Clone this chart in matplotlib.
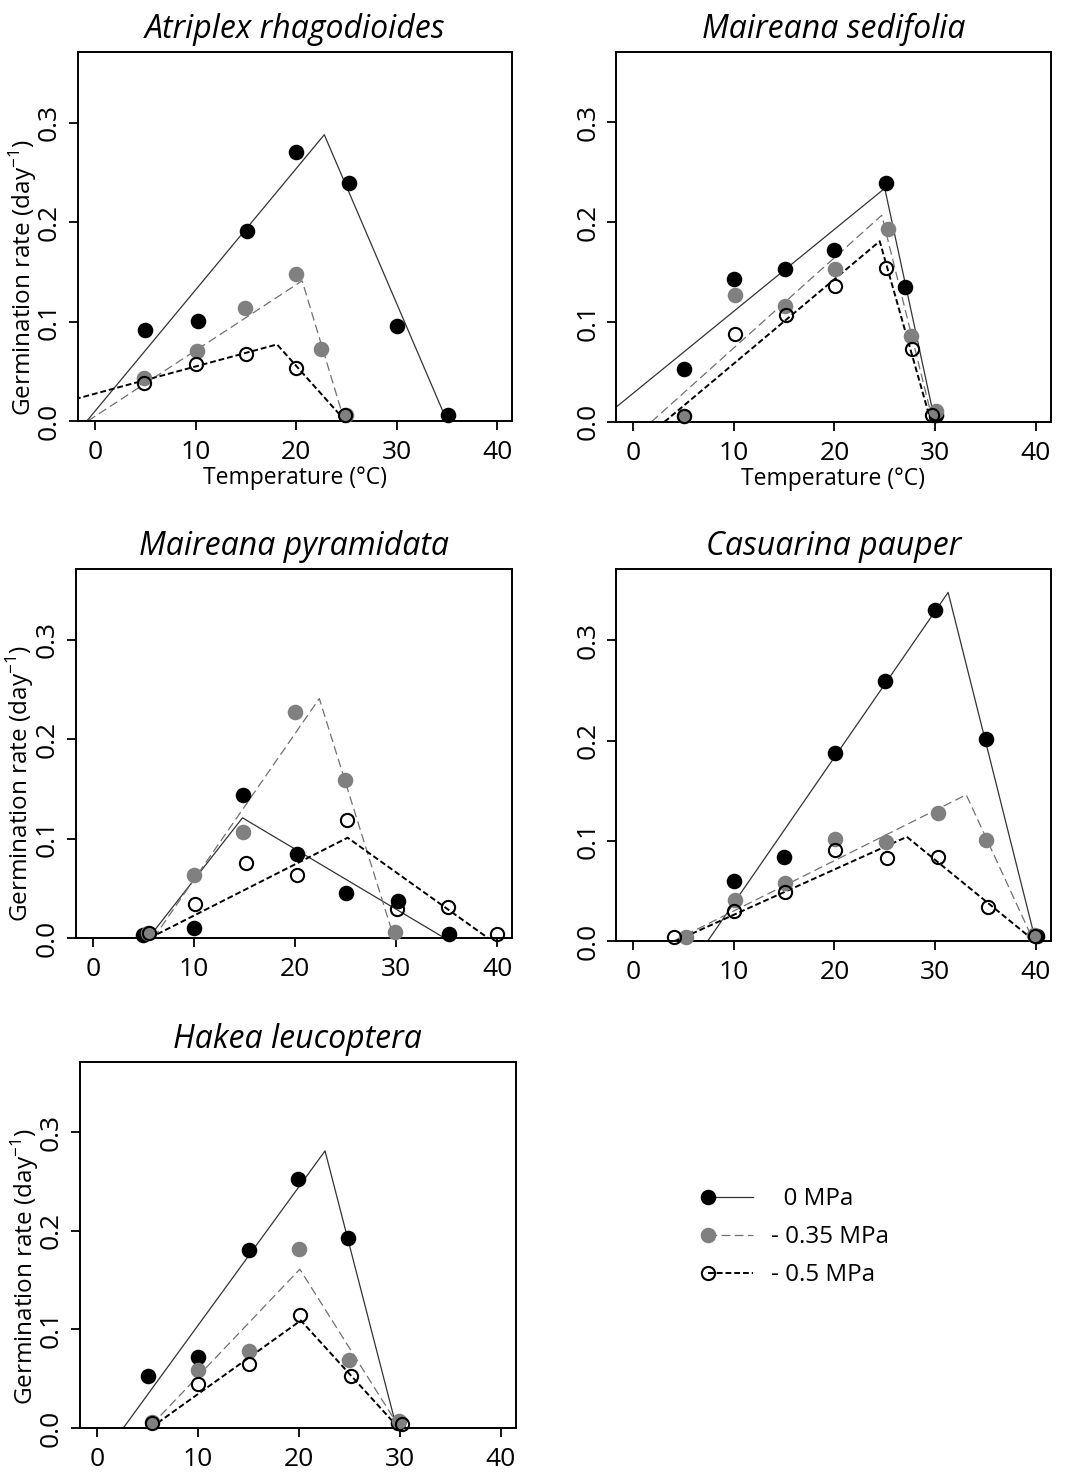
import matplotlib
matplotlib.use("Agg")
import matplotlib.pyplot as plt
from matplotlib.lines import Line2D
from matplotlib.legend_handler import HandlerLine2D
from matplotlib.ticker import FormatStrFormatter

plt.rcParams["font.family"] = ["Open Sans", "DejaVu Sans"]
plt.rcParams["mathtext.fontset"] = "custom"
plt.rcParams["mathtext.rm"] = "Open Sans"

# ---- data (temperature in °C, rate in day^-1) ----
# Atriplex rhagodioides
atr_t0 = [5, 10.2, 15.1, 20, 25.3, 30, 35.1]
atr_r0 = [0.092, 0.101, 0.191, 0.271, 0.239, 0.096, 0.006]
atr_t35 = [4.9, 10.1, 14.9, 20, 22.5, 25]
atr_r35 = [0.043, 0.070, 0.114, 0.148, 0.072, 0.006]
atr_t50 = [4.9, 10, 15, 20, 24.9]
atr_r50 = [0.038, 0.057, 0.067, 0.053, 0.006]
atr_fx0, atr_fy0 = [-0.8, 22.8, 35.0], [0, 0.288, 0]
atr_fx35, atr_fy35 = [-0.7, 20.6, 24.8], [0, 0.141, 0]
atr_fx50, atr_fy50 = [-10.0, 18.1, 24.9], [0, 0.077, 0]

# Maireana sedifolia
mse_t0 = [5, 10, 15.1, 20, 25.1, 27, 30.1]
mse_r0 = [0.053, 0.143, 0.153, 0.172, 0.239, 0.135, 0.007]
mse_t35 = [5, 10.1, 15.1, 20.1, 25.3, 27.6, 30.1]
mse_r35 = [0.006, 0.127, 0.116, 0.153, 0.193, 0.086, 0.011]
mse_t50 = [5, 10.1, 15.2, 20.1, 25.1, 27.7, 29.7]
mse_r50 = [0.006, 0.088, 0.107, 0.136, 0.154, 0.073, 0.007]
mse_fx0, mse_fy0 = [-3.5, 25.0, 30.0], [0, 0.234, 0]
mse_fx35, mse_fy35 = [1.8, 24.7, 29.8], [0, 0.207, 0]
mse_fx50, mse_fy50 = [3.1, 24.5, 29.6], [0, 0.181, 0]

# Maireana pyramidata
mpy_t0 = [5, 10, 14.9, 20.2, 25, 30.2, 35.2]
mpy_r0 = [0.003, 0.010, 0.144, 0.085, 0.045, 0.037, 0.004]
mpy_t35 = [5.5, 10, 14.9, 20, 24.9, 29.9]
mpy_r35 = [0.005, 0.063, 0.107, 0.227, 0.159, 0.006]
mpy_t50 = [5.6, 10.1, 15.1, 20.2, 25.1, 30.1, 35.1, 40]
mpy_r50 = [0.005, 0.034, 0.076, 0.063, 0.119, 0.029, 0.031, 0.004]
mpy_fx0, mpy_fy0 = [5.5, 14.8, 34.8], [0, 0.121, 0]
mpy_fx35, mpy_fy35 = [6.0, 22.4, 29.8], [0, 0.241, 0]
mpy_fx50, mpy_fy50 = [5.6, 25.2, 39.1], [0, 0.101, 0]

# Casuarina pauper
cpa_t0 = [10, 15, 20.1, 25, 30, 35.1, 40.1]
cpa_r0 = [0.060, 0.084, 0.188, 0.260, 0.330, 0.202, 0.005]
cpa_t35 = [5.2, 10.1, 15.1, 20.1, 25.1, 30.3, 35.1, 39.8]
cpa_r35 = [0.004, 0.041, 0.058, 0.102, 0.099, 0.128, 0.101, 0.006]
cpa_t50 = [4, 10, 15.1, 20.1, 25.2, 30.3, 35.3, 39.9]
cpa_r50 = [0.004, 0.030, 0.049, 0.091, 0.083, 0.084, 0.034, 0.005]
cpa_fx0, cpa_fy0 = [7.4, 31.3, 40.0], [0, 0.348, 0]
cpa_fx35, cpa_fy35 = [4.0, 33.1, 39.8], [0, 0.146, 0]
cpa_fx50, cpa_fy50 = [4.2, 27.2, 39.9], [0, 0.104, 0]

# Hakea leucoptera
hle_t0 = [5, 10, 15.1, 19.9, 24.9, 29.8]
hle_r0 = [0.053, 0.072, 0.180, 0.252, 0.193, 0.005]
hle_t35 = [5.4, 10, 15.1, 20, 25, 29.9]
hle_r35 = [0.006, 0.059, 0.078, 0.181, 0.069, 0.007]
hle_t50 = [5.4, 10, 15.1, 20.1, 25.2, 30.2]
hle_r50 = [0.005, 0.045, 0.065, 0.115, 0.053, 0.004]
hle_fx0, hle_fy0 = [2.6, 22.6, 29.7], [0, 0.281, 0]
hle_fx35, hle_fy35 = [5.4, 20.1, 29.7], [0.003, 0.161, 0.005]
hle_fx50, hle_fy50 = [5.3, 20.2, 29.9], [0, 0.109, 0]

species = ["Atriplex rhagodioides", "Maireana sedifolia", "Maireana pyramidata",
           "Casuarina pauper", "Hakea leucoptera"]
treatments = ["  0 MPa", "- 0.35 MPa", "- 0.5 MPa"]

points = [
    [(atr_t0, atr_r0), (atr_t35, atr_r35), (atr_t50, atr_r50)],
    [(mse_t0, mse_r0), (mse_t35, mse_r35), (mse_t50, mse_r50)],
    [(mpy_t0, mpy_r0), (mpy_t35, mpy_r35), (mpy_t50, mpy_r50)],
    [(cpa_t0, cpa_r0), (cpa_t35, cpa_r35), (cpa_t50, cpa_r50)],
    [(hle_t0, hle_r0), (hle_t35, hle_r35), (hle_t50, hle_r50)],
]
fits = [
    [(atr_fx0, atr_fy0), (atr_fx35, atr_fy35), (atr_fx50, atr_fy50)],
    [(mse_fx0, mse_fy0), (mse_fx35, mse_fy35), (mse_fx50, mse_fy50)],
    [(mpy_fx0, mpy_fy0), (mpy_fx35, mpy_fy35), (mpy_fx50, mpy_fy50)],
    [(cpa_fx0, cpa_fy0), (cpa_fx35, cpa_fy35), (cpa_fx50, cpa_fy50)],
    [(hle_fx0, hle_fy0), (hle_fx35, hle_fy35), (hle_fx50, hle_fy50)],
]

# ---- styles ----
line_styles = [
    dict(color="#333333", lw=0.9, ls="-"),
    dict(color="#707070", lw=0.9, ls=(0, (7, 3.5))),
    dict(color="black", lw=1.4, ls=(0, (3, 1.5))),
]
marker_styles = [
    dict(marker="o", ms=10, mfc="black", mec="black", mew=1.2),
    dict(marker="o", ms=10, mfc="#808080", mec="#808080", mew=1.2),
    dict(marker="o", ms=9.5, mfc="none", mec="black", mew=1.5),
]

# axes positions (left, bottom, width, height) in figure fraction
positions = [
    (0.072, 0.7146, 0.402, 0.250),
    (0.570, 0.7140, 0.402, 0.251),
    (0.070, 0.3640, 0.404, 0.250),
    (0.570, 0.3620, 0.402, 0.252),
    (0.074, 0.0319, 0.403, 0.248),
]
ylabel_y = [0.39, None, 0.42, None, 0.44]


class MarkerLeft(HandlerLine2D):
    # legend key: marker at the left end, line running to the right
    def create_artists(self, *args, **kwargs):
        artists = super().create_artists(*args, **kwargs)
        for a in artists:
            if a.get_marker() not in (None, "None", "none", ""):
                a.set_markevery([0])
        return artists


fig = plt.figure(figsize=(10.81, 14.75), dpi=100)

for i, name in enumerate(species):
    ax = fig.add_axes(positions[i])
    for k in range(3):
        fx, fy = fits[i][k]
        ax.plot(fx, fy, **line_styles[k], zorder=2)
    for k in range(3):
        px, py = points[i][k]
        ax.plot(px, py, ls="none", **marker_styles[k], clip_on=False, zorder=3)

    ax.set_xlim(-1.7, 41.5)
    ax.set_ylim(0, 0.371)
    ax.set_xticks([0, 10, 20, 30, 40])
    ax.set_yticks([0, 0.1, 0.2, 0.3])
    ax.yaxis.set_major_formatter(FormatStrFormatter("%.1f"))
    ax.tick_params(axis="both", direction="out", length=6.5, width=1.3,
                   labelsize=19, color="black")
    ax.tick_params(axis="x", pad=7)
    ax.tick_params(axis="y", pad=5)
    for lab in ax.get_yticklabels():
        lab.set_rotation(90)
        lab.set_va("center")
    for sp in ax.spines.values():
        sp.set_linewidth(1.4)
    ax.set_title(name, fontstyle="italic", fontsize=23, pad=10)
    if i < 2:
        ax.set_xlabel("Temperature (°C)", fontsize=16.5, labelpad=1)
    if ylabel_y[i] is not None:
        ax.set_ylabel("Germination rate (day$^{-1}$)", fontsize=17.5)
        ax.yaxis.set_label_coords(-0.09, ylabel_y[i])

# legend in the empty sixth slot
handles = [Line2D([0, 1], [0, 0], **line_styles[k], **marker_styles[k]) for k in range(3)]
fig.legend(handles, treatments, loc="upper left", bbox_to_anchor=(0.6485, 0.195),
           frameon=False, borderpad=0, borderaxespad=0, numpoints=2,
           handler_map={Line2D: MarkerLeft()},
           handlelength=2.45, handletextpad=0.44, labelspacing=0.57, fontsize=17.5)

fig.savefig("out.png", dpi=100)
